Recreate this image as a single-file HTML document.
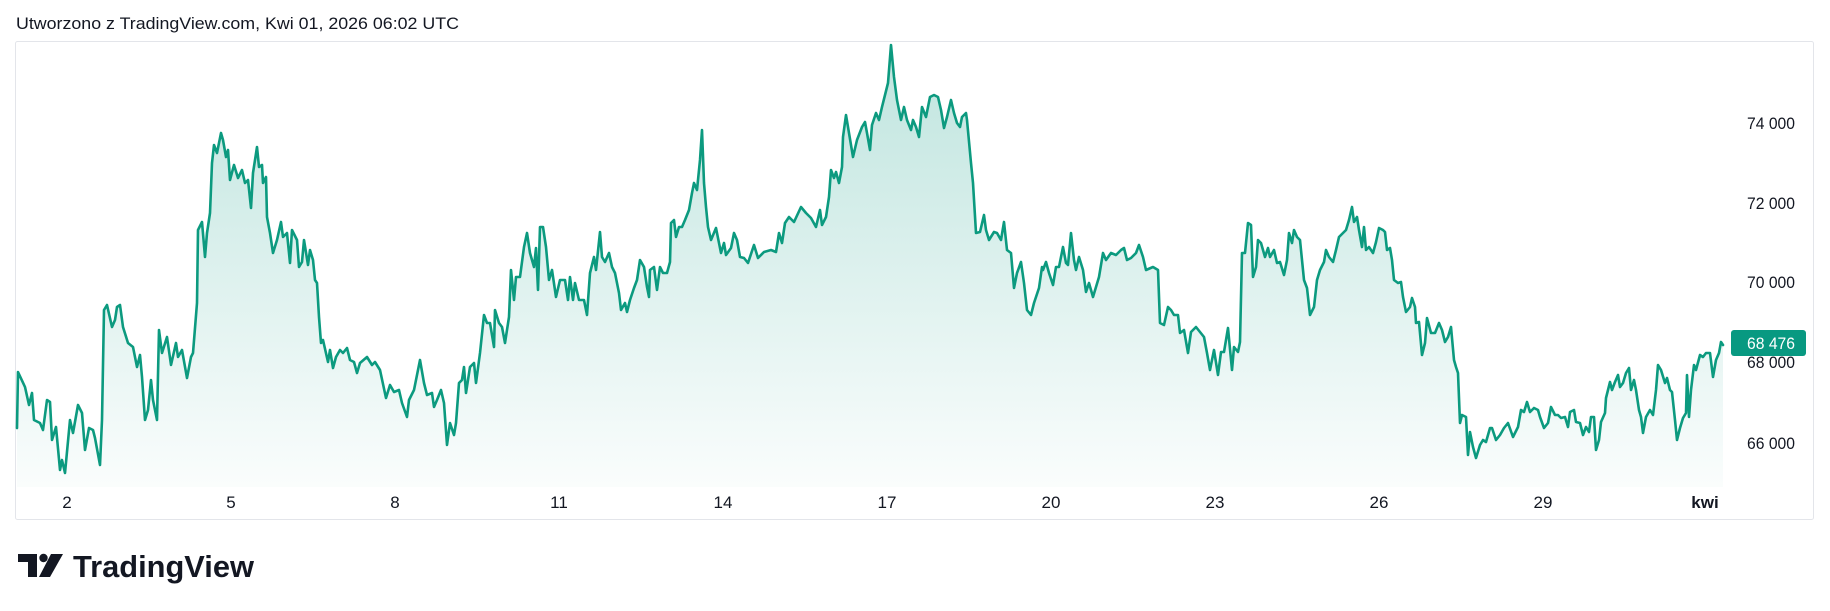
<!DOCTYPE html>
<html><head><meta charset="utf-8"><style>
html,body{margin:0;padding:0;background:#fff;}
svg{display:block;}
text{font-family:"Liberation Sans",sans-serif;fill:#131722;}
</style></head><body>
<svg width="1830" height="611" viewBox="0 0 1830 611" xmlns="http://www.w3.org/2000/svg">
<defs>
<linearGradient id="g" x1="0" y1="45" x2="0" y2="487" gradientUnits="userSpaceOnUse">
<stop offset="0" stop-color="#089981" stop-opacity="0.26"/>
<stop offset="1" stop-color="#089981" stop-opacity="0.02"/>
</linearGradient>
</defs>
<rect x="0" y="0" width="1830" height="611" fill="#fff"/>
<text x="16" y="29" font-size="17" textLength="443" lengthAdjust="spacingAndGlyphs">Utworzono z TradingView.com, Kwi 01, 2026 06:02 UTC</text>
<rect x="15.5" y="41.5" width="1798" height="478" rx="2" fill="#fff" stroke="#e3e5ea" stroke-width="1"/>
<path id="p" fill="url(#g)" stroke="none" d="M17,428 L18,372 25,387 29,405 32,393 34,420 40,423 43,430 47,400 50,402 52,440 56,427 60,470 62,460 65,473 70,420 73,433 78,405 82,413 85,450 89,428 93,430 95,438 100,465 102,420 104,310 107,305 112,327 115,320 117,307 120,305 123,327 128,343 133,347 137,367 140,355 142,377 145,420 148,410 151,380 153,400 157,420 159,330 162,353 167,337 171,365 176,343 178,357 182,350 187,378 191,357 193,353 197,303 198,230 202,222 205,257 207,233 210,213 212,163 214,145 217,153 221,133 223,140 226,157 228,150 230,180 234,165 238,178 242,170 245,183 248,180 251,208 253,173 257,147 259,167 262,165 263,183 266,177 267,217 270,233 273,253 277,240 281,222 283,237 287,233 290,263 292,230 297,240 299,267 302,262 304,240 308,265 310,250 313,260 315,280 317,283 319,317 321,343 323,340 328,362 330,350 333,368 336,357 340,350 343,353 347,348 350,360 354,362 357,373 360,363 367,357 372,365 375,362 380,370 386,398 390,385 394,392 399,390 402,403 407,417 409,400 414,390 420,360 424,383 427,395 432,393 434,407 437,400 441,390 444,403 447,445 450,423 454,435 456,423 459,383 462,380 464,367 466,393 470,367 474,363 476,383 480,353 484,315 487,323 490,323 494,347 495,310 499,323 502,327 505,343 509,317 511,270 514,300 516,277 520,277 524,247 527,233 530,253 534,267 536,248 538,290 540,227 543,227 546,247 549,280 552,270 556,297 560,280 565,280 568,300 570,277 573,300 575,283 579,300 584,300 587,315 590,273 594,257 596,270 600,232 602,257 605,262 609,253 612,267 615,273 619,293 621,310 625,303 627,312 630,300 634,288 637,280 640,260 644,267 647,287 649,297 650,270 654,267 657,290 660,267 663,273 667,273 670,262 671,223 674,220 676,237 679,227 682,227 685,220 689,210 692,193 694,183 697,190 700,160 702,130 704,183 706,207 708,227 711,240 716,228 721,253 724,243 726,255 731,248 734,233 737,240 740,257 744,258 748,263 754,245 758,258 764,252 771,250 776,252 779,233 782,243 785,223 789,217 794,222 801,207 806,213 811,218 816,227 820,210 822,225 826,217 829,197 831,170 834,178 836,172 839,183 842,167 843,137 846,115 849,133 853,157 857,140 862,127 865,122 867,133 870,150 872,125 876,113 879,120 882,107 885,95 888,83 891,45 894,77 897,100 901,120 904,107 907,120 911,130 913,120 916,127 919,137 922,107 926,117 930,97 934,95 938,97 941,110 944,128 947,117 951,100 954,113 957,123 960,127 962,117 966,113 967,120 971,163 973,183 976,233 980,232 984,215 986,230 989,240 994,232 997,233 1001,240 1004,222 1007,250 1011,253 1014,288 1017,273 1021,262 1024,283 1027,310 1031,315 1034,303 1039,288 1042,267 1043,270 1046,262 1049,273 1053,285 1056,267 1059,267 1063,247 1066,263 1068,265 1071,233 1074,260 1076,270 1079,257 1083,270 1086,292 1089,283 1093,297 1096,287 1099,277 1103,253 1106,260 1111,253 1116,255 1121,250 1124,248 1127,260 1131,258 1136,253 1139,245 1143,257 1146,270 1153,267 1158,270 1160,323 1164,325 1168,307 1171,310 1174,315 1178,315 1180,333 1184,330 1188,353 1191,332 1196,327 1200,332 1204,337 1207,353 1210,370 1214,350 1218,375 1221,352 1224,352 1228,328 1232,370 1234,347 1238,352 1240,342 1242,253 1245,253 1248,223 1251,225 1253,277 1256,267 1258,240 1261,243 1265,257 1268,248 1270,257 1274,250 1277,263 1280,262 1284,275 1287,260 1289,233 1292,243 1294,230 1297,237 1300,240 1304,280 1307,288 1310,315 1314,307 1317,280 1320,270 1324,262 1326,250 1329,257 1333,262 1336,250 1339,237 1343,233 1346,230 1349,220 1352,207 1354,222 1357,217 1359,230 1362,247 1364,227 1366,250 1369,247 1373,253 1376,242 1379,228 1383,230 1385,232 1387,250 1390,248 1392,260 1394,280 1398,283 1401,282 1403,297 1406,312 1410,307 1412,298 1415,307 1416,323 1419,322 1422,355 1425,343 1427,318 1431,333 1435,333 1439,323 1442,330 1445,342 1448,337 1451,327 1454,360 1456,367 1458,373 1460,423 1462,415 1466,417 1468,455 1470,432 1473,447 1476,458 1480,445 1483,440 1486,442 1490,428 1492,428 1496,440 1500,435 1504,428 1508,423 1513,437 1518,427 1521,410 1524,412 1527,402 1530,412 1534,408 1538,410 1540,417 1544,428 1548,423 1551,407 1555,415 1558,415 1561,418 1565,417 1568,427 1570,412 1574,410 1576,422 1580,423 1583,435 1586,427 1589,432 1591,417 1594,417 1596,450 1599,440 1601,422 1605,413 1606,398 1610,382 1612,390 1615,382 1618,375 1620,387 1623,383 1626,373 1629,368 1631,390 1634,380 1636,390 1639,410 1641,417 1643,433 1646,417 1650,410 1653,415 1656,390 1658,365 1661,370 1665,383 1667,378 1670,390 1672,392 1675,420 1677,440 1680,428 1683,418 1686,413 1687,375 1689,417 1691,390 1694,365 1696,370 1700,355 1703,357 1706,353 1710,353 1713,377 1716,360 1719,353 1721,342 1723,345 L1723,487 L17,487 Z"/>
<path fill="none" stroke="#0c9a7f" stroke-width="2.6" stroke-linejoin="round" stroke-linecap="round" d="M17,428 L18,372 25,387 29,405 32,393 34,420 40,423 43,430 47,400 50,402 52,440 56,427 60,470 62,460 65,473 70,420 73,433 78,405 82,413 85,450 89,428 93,430 95,438 100,465 102,420 104,310 107,305 112,327 115,320 117,307 120,305 123,327 128,343 133,347 137,367 140,355 142,377 145,420 148,410 151,380 153,400 157,420 159,330 162,353 167,337 171,365 176,343 178,357 182,350 187,378 191,357 193,353 197,303 198,230 202,222 205,257 207,233 210,213 212,163 214,145 217,153 221,133 223,140 226,157 228,150 230,180 234,165 238,178 242,170 245,183 248,180 251,208 253,173 257,147 259,167 262,165 263,183 266,177 267,217 270,233 273,253 277,240 281,222 283,237 287,233 290,263 292,230 297,240 299,267 302,262 304,240 308,265 310,250 313,260 315,280 317,283 319,317 321,343 323,340 328,362 330,350 333,368 336,357 340,350 343,353 347,348 350,360 354,362 357,373 360,363 367,357 372,365 375,362 380,370 386,398 390,385 394,392 399,390 402,403 407,417 409,400 414,390 420,360 424,383 427,395 432,393 434,407 437,400 441,390 444,403 447,445 450,423 454,435 456,423 459,383 462,380 464,367 466,393 470,367 474,363 476,383 480,353 484,315 487,323 490,323 494,347 495,310 499,323 502,327 505,343 509,317 511,270 514,300 516,277 520,277 524,247 527,233 530,253 534,267 536,248 538,290 540,227 543,227 546,247 549,280 552,270 556,297 560,280 565,280 568,300 570,277 573,300 575,283 579,300 584,300 587,315 590,273 594,257 596,270 600,232 602,257 605,262 609,253 612,267 615,273 619,293 621,310 625,303 627,312 630,300 634,288 637,280 640,260 644,267 647,287 649,297 650,270 654,267 657,290 660,267 663,273 667,273 670,262 671,223 674,220 676,237 679,227 682,227 685,220 689,210 692,193 694,183 697,190 700,160 702,130 704,183 706,207 708,227 711,240 716,228 721,253 724,243 726,255 731,248 734,233 737,240 740,257 744,258 748,263 754,245 758,258 764,252 771,250 776,252 779,233 782,243 785,223 789,217 794,222 801,207 806,213 811,218 816,227 820,210 822,225 826,217 829,197 831,170 834,178 836,172 839,183 842,167 843,137 846,115 849,133 853,157 857,140 862,127 865,122 867,133 870,150 872,125 876,113 879,120 882,107 885,95 888,83 891,45 894,77 897,100 901,120 904,107 907,120 911,130 913,120 916,127 919,137 922,107 926,117 930,97 934,95 938,97 941,110 944,128 947,117 951,100 954,113 957,123 960,127 962,117 966,113 967,120 971,163 973,183 976,233 980,232 984,215 986,230 989,240 994,232 997,233 1001,240 1004,222 1007,250 1011,253 1014,288 1017,273 1021,262 1024,283 1027,310 1031,315 1034,303 1039,288 1042,267 1043,270 1046,262 1049,273 1053,285 1056,267 1059,267 1063,247 1066,263 1068,265 1071,233 1074,260 1076,270 1079,257 1083,270 1086,292 1089,283 1093,297 1096,287 1099,277 1103,253 1106,260 1111,253 1116,255 1121,250 1124,248 1127,260 1131,258 1136,253 1139,245 1143,257 1146,270 1153,267 1158,270 1160,323 1164,325 1168,307 1171,310 1174,315 1178,315 1180,333 1184,330 1188,353 1191,332 1196,327 1200,332 1204,337 1207,353 1210,370 1214,350 1218,375 1221,352 1224,352 1228,328 1232,370 1234,347 1238,352 1240,342 1242,253 1245,253 1248,223 1251,225 1253,277 1256,267 1258,240 1261,243 1265,257 1268,248 1270,257 1274,250 1277,263 1280,262 1284,275 1287,260 1289,233 1292,243 1294,230 1297,237 1300,240 1304,280 1307,288 1310,315 1314,307 1317,280 1320,270 1324,262 1326,250 1329,257 1333,262 1336,250 1339,237 1343,233 1346,230 1349,220 1352,207 1354,222 1357,217 1359,230 1362,247 1364,227 1366,250 1369,247 1373,253 1376,242 1379,228 1383,230 1385,232 1387,250 1390,248 1392,260 1394,280 1398,283 1401,282 1403,297 1406,312 1410,307 1412,298 1415,307 1416,323 1419,322 1422,355 1425,343 1427,318 1431,333 1435,333 1439,323 1442,330 1445,342 1448,337 1451,327 1454,360 1456,367 1458,373 1460,423 1462,415 1466,417 1468,455 1470,432 1473,447 1476,458 1480,445 1483,440 1486,442 1490,428 1492,428 1496,440 1500,435 1504,428 1508,423 1513,437 1518,427 1521,410 1524,412 1527,402 1530,412 1534,408 1538,410 1540,417 1544,428 1548,423 1551,407 1555,415 1558,415 1561,418 1565,417 1568,427 1570,412 1574,410 1576,422 1580,423 1583,435 1586,427 1589,432 1591,417 1594,417 1596,450 1599,440 1601,422 1605,413 1606,398 1610,382 1612,390 1615,382 1618,375 1620,387 1623,383 1626,373 1629,368 1631,390 1634,380 1636,390 1639,410 1641,417 1643,433 1646,417 1650,410 1653,415 1656,390 1658,365 1661,370 1665,383 1667,378 1670,390 1672,392 1675,420 1677,440 1680,428 1683,418 1686,413 1687,375 1689,417 1691,390 1694,365 1696,370 1700,355 1703,357 1706,353 1710,353 1713,377 1716,360 1719,353 1721,342 1723,345"/>
<g font-size="17" text-anchor="end">
<text x="1795" y="129" textLength="48" lengthAdjust="spacingAndGlyphs">74 000</text>
<text x="1795" y="209" textLength="48" lengthAdjust="spacingAndGlyphs">72 000</text>
<text x="1795" y="288" textLength="48" lengthAdjust="spacingAndGlyphs">70 000</text>
<text x="1795" y="368" textLength="48" lengthAdjust="spacingAndGlyphs">68 000</text>
<text x="1795" y="449" textLength="48" lengthAdjust="spacingAndGlyphs">66 000</text>
</g>
<rect x="1731" y="330" width="75" height="26" rx="3" fill="#089981"/>
<text x="1795" y="349" font-size="17" text-anchor="end" textLength="48" lengthAdjust="spacingAndGlyphs" style="fill:#ffffff">68 476</text>
<g font-size="17" text-anchor="middle">
<text x="67" y="508">2</text>
<text x="231" y="508">5</text>
<text x="395" y="508">8</text>
<text x="559" y="508">11</text>
<text x="723" y="508">14</text>
<text x="887" y="508">17</text>
<text x="1051" y="508">20</text>
<text x="1215" y="508">23</text>
<text x="1379" y="508">26</text>
<text x="1543" y="508">29</text>
<text x="1705" y="508" font-weight="bold">kwi</text>
</g>
<g fill="#131722">
<rect x="18" y="554" width="19" height="8"/>
<rect x="28" y="554" width="9" height="23"/>
<circle cx="43.5" cy="558" r="4.2"/>
<polygon points="51,554 63,554 50,577 39,577"/>
</g>
<text x="73" y="577" font-size="31" font-weight="bold" textLength="181" lengthAdjust="spacingAndGlyphs">TradingView</text>
</svg>
</body></html>
